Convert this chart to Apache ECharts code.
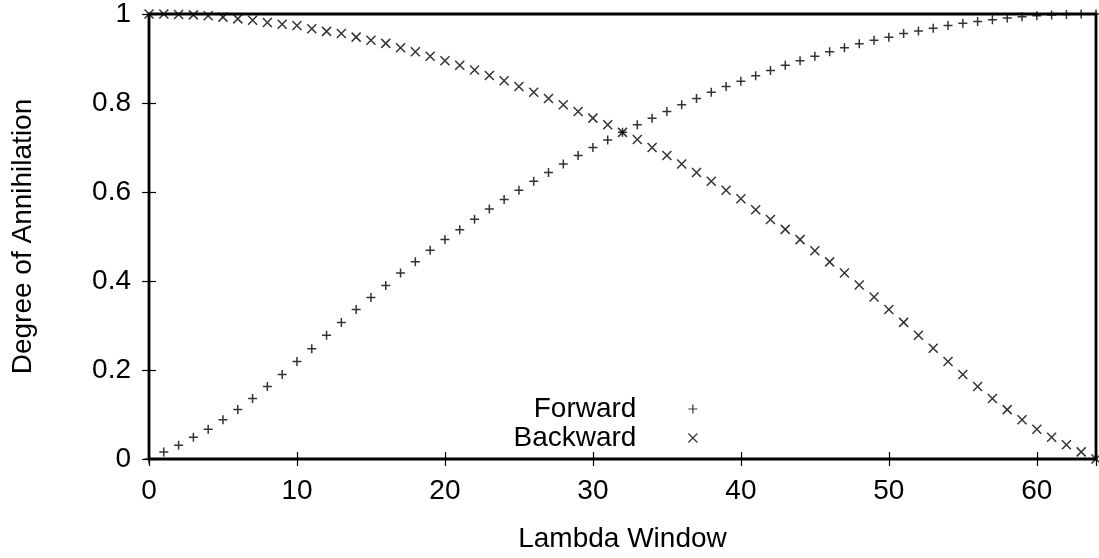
<!DOCTYPE html>
<html>
<head>
<meta charset="utf-8">
<title>Degree of Annihilation</title>
<script src="https://cdn.jsdelivr.net/npm/echarts@6/dist/echarts.min.js"></script>
<style>
  html, body { margin: 0; padding: 0; background: #fff; }
  #chart { width: 1099px; height: 558px; }
</style>
</head>
<body>
<div id="chart"></div>
<script>
// Degree of annihilation per lambda window (index = window number 0..64)
const forward = [
  0.000, 0.016, 0.031, 0.049, 0.067, 0.088, 0.111, 0.136, 0.163, 0.190,
  0.219, 0.248, 0.278, 0.307, 0.336, 0.363, 0.390, 0.418, 0.443, 0.469,
  0.493, 0.515, 0.539, 0.562, 0.583, 0.604, 0.624, 0.644, 0.663, 0.682,
  0.700, 0.717, 0.734, 0.751, 0.766, 0.781, 0.796, 0.810, 0.824, 0.837,
  0.849, 0.861, 0.873, 0.885, 0.895, 0.905, 0.915, 0.924, 0.933, 0.941,
  0.948, 0.956, 0.962, 0.968, 0.974, 0.979, 0.983, 0.987, 0.991, 0.994,
  0.996, 0.998, 0.999, 1.000, 1.000
];
const backward = [
  1.000, 1.000, 0.999, 0.998, 0.996, 0.993, 0.989, 0.986, 0.981, 0.977,
  0.974, 0.967, 0.961, 0.956, 0.948, 0.941, 0.934, 0.924, 0.915, 0.905,
  0.895, 0.885, 0.874, 0.862, 0.850, 0.837, 0.824, 0.810, 0.796, 0.781,
  0.766, 0.751, 0.734, 0.718, 0.700, 0.682, 0.663, 0.644, 0.624, 0.604,
  0.585, 0.560, 0.538, 0.516, 0.493, 0.468, 0.443, 0.418, 0.391, 0.364,
  0.336, 0.307, 0.278, 0.249, 0.219, 0.190, 0.163, 0.136, 0.111, 0.088,
  0.067, 0.049, 0.032, 0.016, 0.000
];
const xTickLabels = ['0', '10', '20', '30', '40', '50', '60'];
const yTickLabels = ['0', '0.2', '0.4', '0.6', '0.8', '1'];
const seriesNames = ['Forward', 'Backward'];

const FONT = "'Liberation Sans', Arial, Helvetica, sans-serif";
const FS = 28;
const PLUS = 'path://M0,4 L8,4 M4,0 L4,8';
const CROSS = 'path://M0,0 L8,8 M8,0 L0,8';

const toPairs = arr => arr.map((v, i) => [i, v]);

const tickStyle = { show: true, inside: true, length: 7, lineStyle: { color: '#000', width: 1.2 } };
const markStyle = { color: 'transparent', borderColor: '#000', borderWidth: 1.5 };

const chart = echarts.init(document.getElementById('chart'), null, { renderer: 'canvas' });
chart.setOption({
  animation: false,
  backgroundColor: '#fff',
  textStyle: { fontFamily: FONT, color: '#000' },
  grid: {
    left: 149, right: 2, top: 14, bottom: 99,
    show: true, borderColor: '#000', borderWidth: 2.8, backgroundColor: 'transparent'
  },
  legend: {
    orient: 'vertical',
    right: 401,
    top: 395,
    padding: 0,
    itemGap: 1,
    align: 'right',
    itemWidth: 9,
    itemHeight: 9,
    itemStyle: { color: 'transparent', borderColor: '#000', borderWidth: 1.2 },
    textStyle: {
      fontFamily: FONT, fontSize: FS, color: '#000',
      lineHeight: 28, padding: [0, 47, 0, 0]
    },
    data: [
      { name: seriesNames[0], icon: PLUS },
      { name: seriesNames[1], icon: CROSS }
    ]
  },
  xAxis: [
    {
      type: 'value', min: 0, max: 64, interval: 10,
      name: 'Lambda Window', nameLocation: 'middle', nameGap: 66,
      nameTextStyle: { fontFamily: FONT, fontSize: FS, color: '#000' },
      axisLine: { show: false },
      axisTick: tickStyle,
      splitLine: { show: false },
      axisLabel: {
        fontFamily: FONT, fontSize: FS, color: '#000', margin: 18,
        formatter: v => (v % 10 === 0 ? xTickLabels[v / 10] : '')
      }
    },
    {
      type: 'value', position: 'top', min: 0, max: 64, interval: 10,
      axisLine: { show: false }, axisTick: tickStyle,
      axisLabel: { show: false }, splitLine: { show: false }
    }
  ],
  yAxis: [
    {
      type: 'value', min: 0, max: 1, interval: 0.2,
      name: 'Degree of Annihilation', nameLocation: 'middle', nameGap: 112,
      nameTextStyle: { fontFamily: FONT, fontSize: FS, color: '#000' },
      axisLine: { show: false },
      axisTick: tickStyle,
      splitLine: { show: false },
      axisLabel: {
        fontFamily: FONT, fontSize: FS, color: '#000', margin: 18,
        formatter: v => yTickLabels[Math.round(v * 5)]
      }
    },
    {
      type: 'value', position: 'right', min: 0, max: 1, interval: 0.2,
      axisLine: { show: false }, axisTick: tickStyle,
      axisLabel: { show: false }, splitLine: { show: false }
    }
  ],
  series: [
    {
      name: seriesNames[0], type: 'scatter',
      symbol: PLUS, symbolSize: 9,
      itemStyle: markStyle,
      data: toPairs(forward)
    },
    {
      name: seriesNames[1], type: 'scatter',
      symbol: CROSS, symbolSize: 9,
      itemStyle: markStyle,
      data: toPairs(backward)
    }
  ]
});
</script>
</body>
</html>
